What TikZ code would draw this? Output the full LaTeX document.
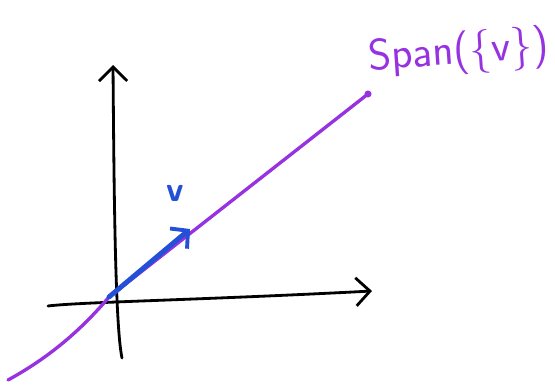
\documentclass[tikz,border=0pt]{standalone}
\usepackage{fontspec}
\usepackage{tikz}
\usetikzlibrary{arrows.meta, positioning, calc}
\definecolor{spanline}{RGB}{150, 50, 225}
\definecolor{vecblue}{RGB}{35, 80, 215}

\begin{document}
\begin{tikzpicture}[
    every node/.style={font=\sffamily},
    axis/.style={line width=1.6pt, black, line cap=round, -{Straight Barb[length=8pt, width=16pt, line width=1.6pt]}},
    spanstyle/.style={line width=1.9pt, spanline, line cap=round},
    vecstyle/.style={line width=2.8pt, vecblue, line cap=round, -{Straight Barb[length=7pt, width=15pt, line width=2.2pt]}},
]
\useasboundingbox (0,0) rectangle (11.1,7.7);

% -- points --
\coordinate (o) at (2.18,1.76);
\coordinate (ybot) at (2.44,0.54);
\coordinate (ytop) at (2.26,6.4);
\coordinate (xleft) at (0.96,1.58);
\coordinate (xright) at (7.44,1.88);
\coordinate (sbot) at (0.16,0.1);
\coordinate (stop) at (7.36,5.82);
\coordinate (vtip) at (3.8,3.12);

% -- axes --
\draw[axis] (ybot) .. controls (2.3,1.2) and (2.28,4) .. (ytop);
\draw[axis] (xleft) .. controls (1.6,1.66) and (4,1.7) .. (xright);

% -- the span --
\draw[spanstyle] (sbot) .. controls (0.8,0.45) and (1.5,0.95) .. (o) -- (stop);
\fill[spanline] (stop) circle (2pt);

% -- vector v --
\draw[vecstyle] (o) -- (vtip);
\node[vecblue, font=\sffamily\bfseries\fontsize{20}{24}\selectfont] (vlabel) at (3.5,3.84) {v};

% -- label --
\node[spanline, rotate=4, font=\sffamily\fontsize{25}{30}\selectfont] (spanlabel) at (9.18,6.64) {Span(\{v\})};

\end{tikzpicture}
\end{document}
